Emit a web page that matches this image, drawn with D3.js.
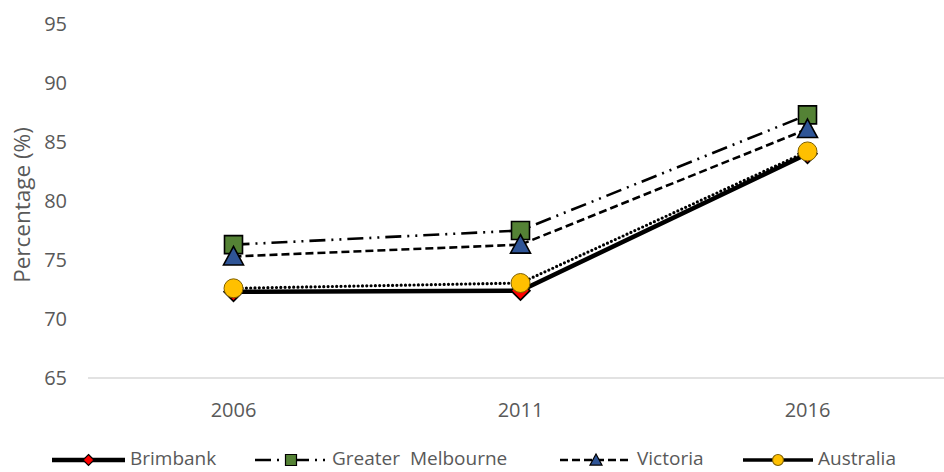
<!DOCTYPE html>
<html>
<head>
<meta charset="utf-8">
<script src="https://cdn.jsdelivr.net/npm/d3@7"></script>
<style>
  html, body { margin: 0; padding: 0; background: #fff; }
  svg { display: block; font-family: "Open Sans", sans-serif; }
</style>
</head>
<body>
<svg id="chart" width="944" height="472"></svg>
<script>
// Census years on the x axis
const years = ["2006", "2011", "2016"];

// Percentage values per area
const brimbank = [72.3, 72.4, 84.0];
const greaterMelbourne = [76.3, 77.5, 87.3];
const victoria = [75.3, 76.3, 86.1];
const australia = [72.6, 73.05, 84.2];

// Y axis ticks
const yTicks = [65, 70, 75, 80, 85, 90, 95];

const seriesNames = ["Brimbank", "Greater  Melbourne", "Victoria", "Australia"];

const series = [
  { name: seriesNames[0], values: brimbank, width: 4.5, dash: null, cap: "butt",
    marker: "diamond", fill: "#ff0000", size: 19, lsize: 11, legendX: 52, legendW: 73 },
  { name: seriesNames[1], values: greaterMelbourne, width: 2.6, dash: "16 6 2 6 2 6", cap: "butt",
    marker: "square", fill: "#548235", size: 18, lsize: 11, legendX: 255, legendW: 72 },
  { name: seriesNames[2], values: victoria, width: 2.6, dash: "8 4", cap: "butt",
    marker: "triangle", fill: "#2f5597", size: 20, lsize: 12, legendX: 560, legendW: 72 },
  { name: seriesNames[3], values: australia, width: 3.2, dash: "0 4.3", cap: "round",
    marker: "circle", fill: "#ffc000", size: 19, lsize: 11, legendX: 743, legendW: 70, legendSolid: true }
];

const svg = d3.select("#chart");
const textColor = "#595959";

const x = d3.scalePoint().domain(years).range([90, 951]).padding(0.5);
const y = d3.scaleLinear().domain([65, 95]).range([378, 24]);

// Baseline at 65
svg.append("line")
  .attr("x1", 88).attr("x2", 944)
  .attr("y1", y(65)).attr("y2", y(65))
  .attr("stroke", "#d9d9d9").attr("stroke-width", 1.3);

// Y tick labels
svg.append("g").selectAll("text").data(yTicks).join("text")
  .attr("x", 67).attr("y", d => y(d))
  .attr("dy", "0.35em")
  .attr("text-anchor", "end")
  .attr("fill", textColor)
  .attr("font-size", 20)
  .text(d => d);

// X tick labels
svg.append("g").selectAll("text").data(years).join("text")
  .attr("x", d => x(d)).attr("y", 410)
  .attr("dy", "0.35em")
  .attr("text-anchor", "middle")
  .attr("fill", textColor)
  .attr("font-size", 20)
  .text(d => d);

// Y axis title
svg.append("text")
  .attr("transform", "translate(22,205) rotate(-90)")
  .attr("dy", "0.35em")
  .attr("text-anchor", "middle")
  .attr("fill", textColor)
  .attr("font-size", 22.5)
  .text("Percentage (%)");

function markerPath(type, s) {
  const h = s / 2;
  if (type === "diamond") return `M0,${-h}L${h},0L0,${h}L${-h},0Z`;
  if (type === "square") return `M${-h},${-h}H${h}V${h}H${-h}Z`;
  if (type === "triangle") return `M0,${-h}L${h},${h * 0.85}L${-h},${h * 0.85}Z`;
  return d3.arc()({ innerRadius: 0, outerRadius: h, startAngle: 0, endAngle: 2 * Math.PI });
}

const line = d3.line().x((d, i) => x(years[i])).y(d => y(d));

// Lines and markers, drawn series by series
series.forEach(s => {
  const g = svg.append("g");
  g.append("path")
    .attr("d", line(s.values))
    .attr("fill", "none")
    .attr("stroke", "#000")
    .attr("stroke-width", s.width)
    .attr("stroke-linecap", s.cap)
    .attr("stroke-linejoin", "round")
    .attr("stroke-dasharray", s.dash);
  g.selectAll("path.m").data(s.values).join("path")
    .attr("class", "m")
    .attr("transform", (d, i) => `translate(${x(years[i])},${y(d)})`)
    .attr("d", markerPath(s.marker, s.size))
    .attr("fill", s.fill)
    .attr("stroke", s.marker === "circle" ? "#7f6000" : "#000")
    .attr("stroke-width", s.marker === "circle" ? 1 : 1.6)
    .attr("stroke-linejoin", "miter");
});

// Legend
const ly = 460;
series.forEach(s => {
  const g = svg.append("g");
  g.append("line")
    .attr("x1", s.legendX).attr("x2", s.legendX + s.legendW)
    .attr("y1", ly).attr("y2", ly)
    .attr("stroke", "#000")
    .attr("stroke-width", s.legendSolid ? 3.4 : (s.marker === "diamond" ? 4.5 : s.width))
    .attr("stroke-linecap", s.legendSolid ? "butt" : s.cap)
    .attr("stroke-dasharray", s.legendSolid ? null : s.dash);
  g.append("path")
    .attr("transform", `translate(${s.legendX + s.legendW / 2},${ly})`)
    .attr("d", markerPath(s.marker, s.lsize))
    .attr("fill", s.fill)
    .attr("stroke", s.marker === "circle" ? "#7f6000" : "#000")
    .attr("stroke-width", 1.2);
  g.append("text")
    .attr("x", s.legendX + s.legendW + 5).attr("y", 465)
    .attr("fill", textColor)
    .attr("font-size", 19)
    .attr("xml:space", "preserve")
    .style("white-space", "pre")
    .text(s.name);
});
</script>
</body>
</html>
